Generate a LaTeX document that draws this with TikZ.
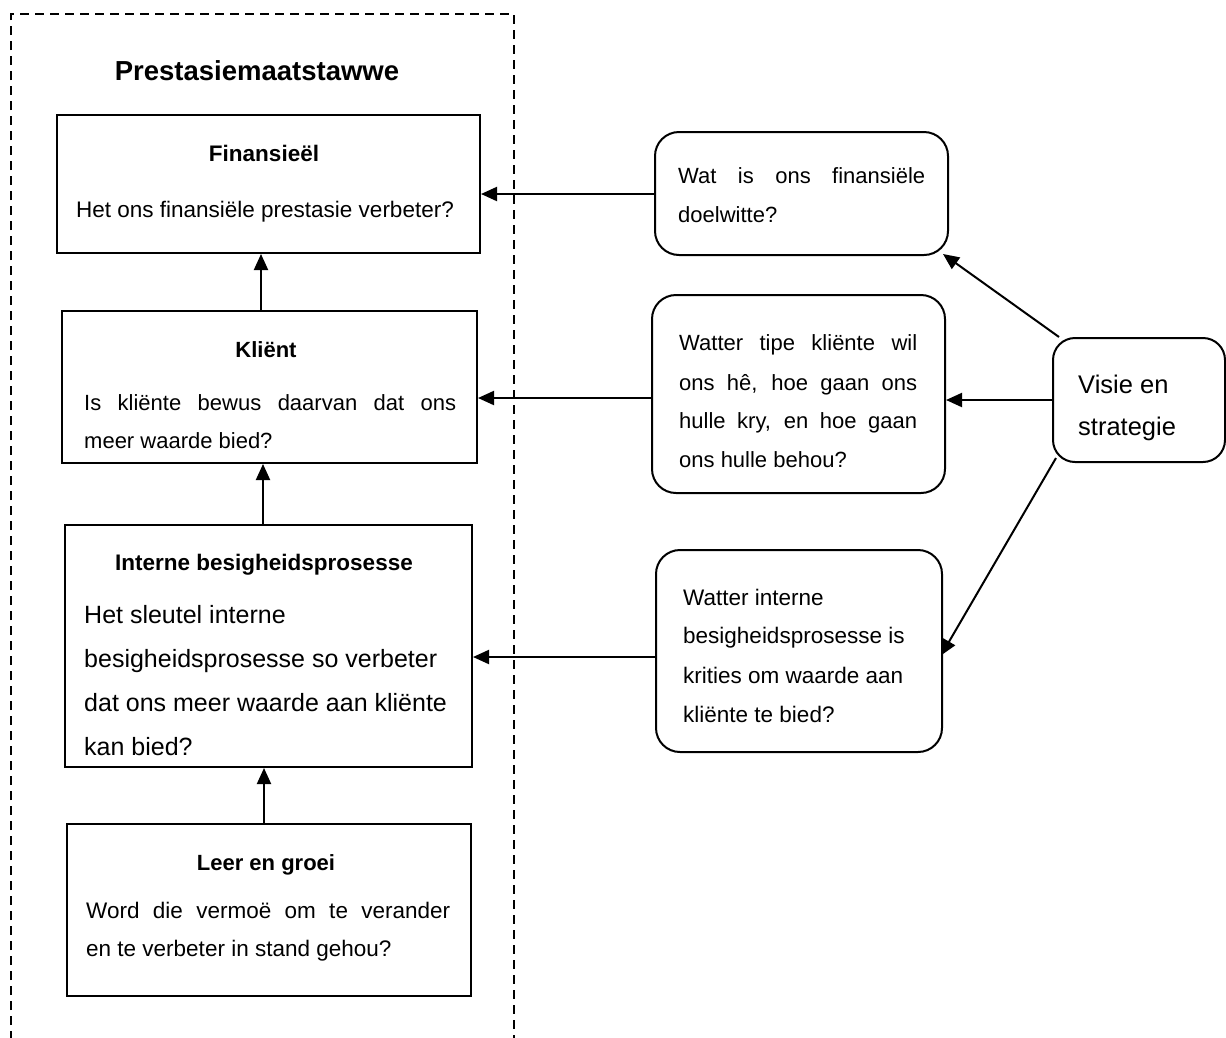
\documentclass[tikz,border=0pt]{standalone}
\usepackage{fontspec}
\setmainfont{Liberation Sans}
\usetikzlibrary{arrows.meta}
\newcommand{\fsz}[1]{\fontsize{#1}{#1}\selectfont}
\begin{document}
\begin{tikzpicture}[x=1pt,y=-1pt,
  sqbox/.style={draw, line width=2pt, inner sep=0pt, rectangle},
  rbox/.style={sqbox, rounded corners=24pt},
  txt/.style={anchor=base west, inner sep=0pt},
  ttl/.style={anchor=base, inner sep=0pt},
  arr/.style={line width=2pt, -{Triangle[length=16pt,width=14pt]}},
  frame/.style={line width=2pt, dash pattern=on 9pt off 6pt}]
\useasboundingbox (0,0) rectangle (1226,1037);
\fill[white] (0,0) rectangle (1226,1037);

% dashed frame around the performance measures (open at the bottom)
\draw[frame] (11,1040) -- (11,14) -- (514,14) -- (514,1040);
\node[ttl, font=\bfseries\fsz{27.5}] (title) at (257,80.5) {Prestasiemaatstawwe};

% left column: the four perspectives
\node[sqbox, minimum width=423pt, minimum height=138pt] (fin) at (268.5,184) {};
\node[ttl, font=\bfseries\fsz{22.5}] (finT) at (264,161) {Finansieël};
\node[ttl, font=\fsz{22.5}] (finB) at (265,217) {Het ons finansiële prestasie verbeter?};

\node[sqbox, minimum width=415pt, minimum height=152pt] (kli) at (269.5,387) {};
\node[ttl, font=\bfseries\fsz{22}] (kliT) at (266,357) {Kliënt};
\node[txt, font=\fsz{22}] (kliB1) at (84,410) {\makebox[372pt][s]{Is kliënte bewus daarvan dat ons}};
\node[txt, font=\fsz{22}] (kliB2) at (84,448) {meer waarde bied?};

\node[sqbox, minimum width=407pt, minimum height=242pt] (ibp) at (268.5,646) {};
\node[ttl, font=\bfseries\fsz{22.5}] (ibpT) at (264,570) {Interne besigheidsprosesse};
\node[txt, font=\fsz{25}] (ibpB1) at (84,623) {Het sleutel interne};
\node[txt, font=\fsz{25}] (ibpB2) at (84,667) {besigheidsprosesse so verbeter};
\node[txt, font=\fsz{25}] (ibpB3) at (84,711) {dat ons meer waarde aan kliënte};
\node[txt, font=\fsz{25}] (ibpB4) at (84,755) {kan bied?};

\node[sqbox, minimum width=404pt, minimum height=172pt] (leer) at (269,910) {};
\node[ttl, font=\bfseries\fsz{22}] (leerT) at (266,870) {Leer en groei};
\node[txt, font=\fsz{22.5}] (leerB1) at (86,918) {\makebox[364pt][s]{Word die vermoë om te verander}};
\node[txt, font=\fsz{22.5}] (leerB2) at (86,956) {en te verbeter in stand gehou?};

% right column: guiding questions
\node[rbox, minimum width=293pt, minimum height=123pt] (q1) at (801.5,193.5) {};
\node[txt, font=\fsz{22}] (q1a) at (678,183) {\makebox[247pt][s]{Wat is ons finansiële}};
\node[txt, font=\fsz{22}] (q1b) at (678,222) {doelwitte?};

\node[rbox, minimum width=293pt, minimum height=198pt] (q2) at (798.5,394) {};
\node[txt, font=\fsz{22}] (q2a) at (679,350) {\makebox[238pt][s]{Watter tipe kliënte wil}};
\node[txt, font=\fsz{22}] (q2b) at (679,390) {\makebox[238pt][s]{ons hê, hoe gaan ons}};
\node[txt, font=\fsz{22}] (q2c) at (679,428) {\makebox[238pt][s]{hulle kry, en hoe gaan}};
\node[txt, font=\fsz{22}] (q2d) at (679,467) {ons hulle behou?};

\node[rbox, minimum width=286pt, minimum height=202pt] (q3) at (799,651) {};
\node[txt, font=\fsz{22.5}] (q3a) at (683,605) {Watter interne};
\node[txt, font=\fsz{22.5}] (q3b) at (683,643) {besigheidsprosesse is};
\node[txt, font=\fsz{22.5}] (q3c) at (683,683) {krities om waarde aan};
\node[txt, font=\fsz{22.5}] (q3d) at (683,722) {kliënte te bied?};

\node[rbox, rounded corners=22pt, minimum width=172pt, minimum height=124pt] (visie) at (1139,400) {};
\node[txt, font=\fsz{25.5}] (visA) at (1078,393) {Visie en};
\node[txt, font=\fsz{25.5}] (visB) at (1078,435) {strategie};

% connectors
\draw[arr] (kli.north -| 261,0) -- (fin.south -| 261,0);
\draw[arr] (ibp.north -| 263,0) -- (kli.south -| 263,0);
\draw[arr] (leer.north -| 264,0) -- (ibp.south -| 264,0);

\draw[arr] (q1.west |- 0,194) -- (fin.east |- 0,194);
\draw[arr] (q2.west |- 0,398) -- (kli.east |- 0,398);
\draw[arr] (q3.west |- 0,657) -- (ibp.east |- 0,657);

\draw[arr] ([xshift=7pt]visie.north west) -- ([shift={(-6pt,2pt)}]q1.south east);
\draw[arr] (visie.west) -- (visie.west -| q2.east);
\draw[arr, shorten >=-4pt] ([shift={(4pt,5pt)}]visie.south west) -- (q3.east |- 0,652);
\end{tikzpicture}
\end{document}
